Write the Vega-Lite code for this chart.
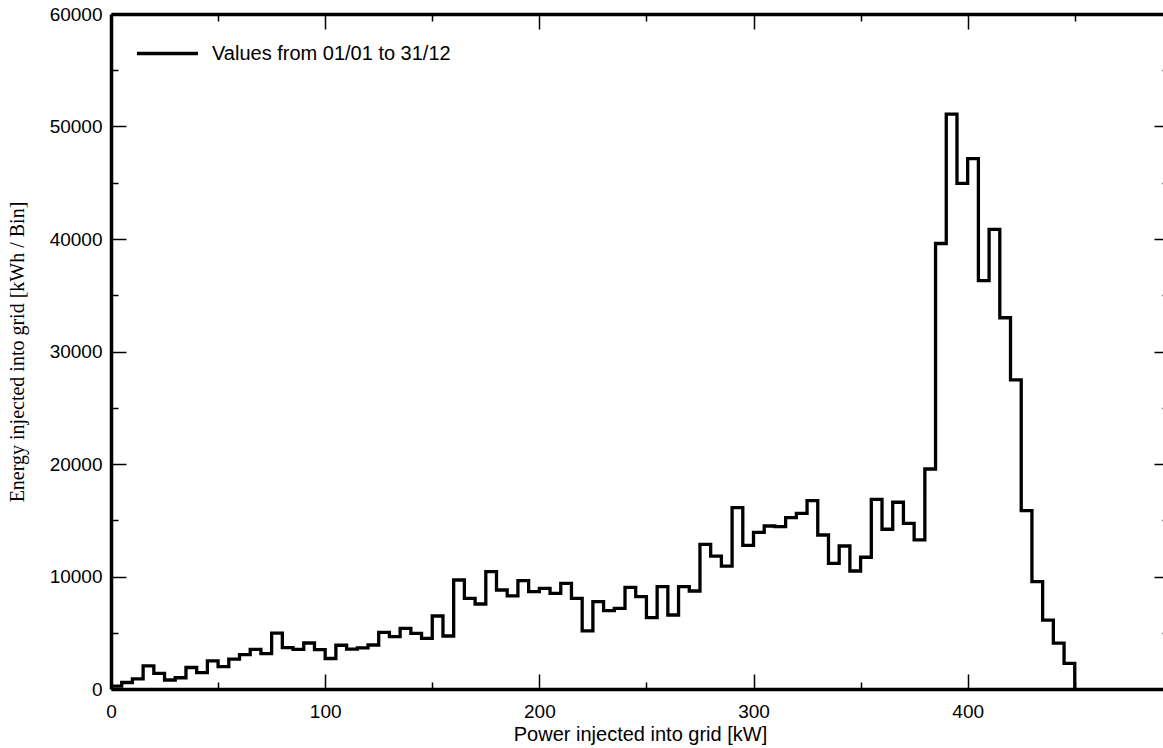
{
  "$schema": "https://vega.github.io/schema/vega-lite/v6.json",
  "autosize": {"type": "none"},
  "padding": {"left": 111, "top": 14, "right": 0, "bottom": 59},
  "width": 1058,
  "height": 675,
  "background": "white",
  "config": {"view": {"stroke": null}},
  "data": {"values": [
    {"power": 0, "energy": 250},
    {"power": 5, "energy": 580},
    {"power": 10, "energy": 900},
    {"power": 15, "energy": 2050},
    {"power": 20, "energy": 1390},
    {"power": 25, "energy": 800},
    {"power": 30, "energy": 1000},
    {"power": 35, "energy": 1910},
    {"power": 40, "energy": 1450},
    {"power": 45, "energy": 2500},
    {"power": 50, "energy": 1990},
    {"power": 55, "energy": 2650},
    {"power": 60, "energy": 3060},
    {"power": 65, "energy": 3530},
    {"power": 70, "energy": 3150},
    {"power": 75, "energy": 4975},
    {"power": 80, "energy": 3680},
    {"power": 85, "energy": 3530},
    {"power": 90, "energy": 4090},
    {"power": 95, "energy": 3500},
    {"power": 100, "energy": 2710},
    {"power": 105, "energy": 3890},
    {"power": 110, "energy": 3550},
    {"power": 115, "energy": 3650},
    {"power": 120, "energy": 3910},
    {"power": 125, "energy": 5036},
    {"power": 130, "energy": 4650},
    {"power": 135, "energy": 5393},
    {"power": 140, "energy": 4950},
    {"power": 145, "energy": 4505},
    {"power": 150, "energy": 6490},
    {"power": 155, "energy": 4710},
    {"power": 160, "energy": 9690},
    {"power": 165, "energy": 8060},
    {"power": 170, "energy": 7556},
    {"power": 175, "energy": 10430},
    {"power": 180, "energy": 8800},
    {"power": 185, "energy": 8270},
    {"power": 190, "energy": 9630},
    {"power": 195, "energy": 8650},
    {"power": 200, "energy": 8950},
    {"power": 205, "energy": 8505},
    {"power": 210, "energy": 9395},
    {"power": 215, "energy": 8060},
    {"power": 220, "energy": 5160},
    {"power": 225, "energy": 7765},
    {"power": 230, "energy": 6965},
    {"power": 235, "energy": 7170},
    {"power": 240, "energy": 9040},
    {"power": 245, "energy": 8210},
    {"power": 250, "energy": 6340},
    {"power": 255, "energy": 9100},
    {"power": 260, "energy": 6580},
    {"power": 265, "energy": 9100},
    {"power": 270, "energy": 8710},
    {"power": 275, "energy": 12860},
    {"power": 280, "energy": 11820},
    {"power": 285, "energy": 10930},
    {"power": 290, "energy": 16120},
    {"power": 295, "energy": 12770},
    {"power": 300, "energy": 13930},
    {"power": 305, "energy": 14490},
    {"power": 310, "energy": 14430},
    {"power": 315, "energy": 15230},
    {"power": 320, "energy": 15620},
    {"power": 325, "energy": 16740},
    {"power": 330, "energy": 13690},
    {"power": 335, "energy": 11170},
    {"power": 340, "energy": 12710},
    {"power": 345, "energy": 10490},
    {"power": 350, "energy": 11710},
    {"power": 355, "energy": 16860},
    {"power": 360, "energy": 14200},
    {"power": 365, "energy": 16600},
    {"power": 370, "energy": 14730},
    {"power": 375, "energy": 13250},
    {"power": 380, "energy": 19555},
    {"power": 385, "energy": 39600},
    {"power": 390, "energy": 51100},
    {"power": 395, "energy": 44950},
    {"power": 400, "energy": 47150},
    {"power": 405, "energy": 36300},
    {"power": 410, "energy": 40850},
    {"power": 415, "energy": 33000},
    {"power": 420, "energy": 27470},
    {"power": 425, "energy": 15850},
    {"power": 430, "energy": 9550},
    {"power": 435, "energy": 6130},
    {"power": 440, "energy": 4080},
    {"power": 445, "energy": 2270},
    {"power": 450, "energy": 0}
  ]},
  "layer": [
    {
      "mark": {"type": "line", "interpolate": "step-after", "strokeWidth": 3.3, "strokeJoin": "miter", "strokeCap": "square", "clip": true},
      "encoding": {
        "x": {"field": "power", "type": "quantitative",
          "scale": {"domain": [0, 494], "nice": false, "zero": false},
          "axis": {
            "orient": "bottom",
            "values": [0, 50, 100, 150, 200, 250, 300, 350, 400, 450],
            "format": "d",
            "labelExpr": "datum.value % 100 === 0 ? datum.label : ''",
            "tickSize": {"condition": {"test": "datum.value % 100 !== 0", "value": -7}, "value": -15},
            "tickWidth": 1.5, "tickColor": "black",
            "domainWidth": 3.5, "domainColor": "black",
            "grid": false,
            "labelFlush": false, "labelOverlap": false,
            "labelFont": "Liberation Sans", "labelFontSize": 19, "labelColor": "black",
            "labelBaseline": "alphabetic", "labelPadding": 43,
            "title": "Power injected into grid [kW]",
            "titleFont": "Liberation Sans", "titleFontSize": 20, "titleFontWeight": "normal", "titleColor": "black",
            "titleBaseline": "alphabetic", "titleY": 51
          }
        },
        "y": {"field": "energy", "type": "quantitative",
          "scale": {"domain": [0, 60000], "nice": false},
          "axis": {
            "orient": "left",
            "values": [0, 5000, 10000, 15000, 20000, 25000, 30000, 35000, 40000, 45000, 50000, 55000, 60000],
            "format": "d",
            "labelExpr": "datum.value % 10000 === 0 ? datum.label : ''",
            "tickSize": {"condition": {"test": "datum.value % 10000 !== 0", "value": -7}, "value": -15},
            "tickWidth": 1.5, "tickColor": "black",
            "domainWidth": 3.5, "domainColor": "black",
            "grid": false,
            "labelOverlap": false, "labelFlush": false,
            "labelFont": "Liberation Sans", "labelFontSize": 19, "labelColor": "black",
            "labelPadding": 24,
            "title": "Energy injected into grid [kWh / Bin]",
            "titleFont": "Liberation Serif", "titleFontSize": 20, "titleFontWeight": "normal", "titleColor": "black",
            "titleBaseline": "alphabetic", "titleAlign": "center", "titleAngle": -90,
            "titleX": -88, "titleY": 337.5
          }
        },
        "color": {"datum": "Values from 01/01 to 31/12", "type": "nominal",
          "scale": {"range": ["black"]},
          "legend": {
            "orient": "none", "legendX": 24, "legendY": 7,
            "title": null, "padding": 0,
            "symbolType": "stroke", "symbolSize": 3720, "symbolStrokeWidth": 3.5, "symbolStrokeColor": "black",
            "labelFont": "Liberation Sans", "labelFontSize": 20, "labelColor": "black", "labelOffset": 12,
            "labelLimit": 400
          }
        }
      }
    },
    {
      "mark": {"type": "line", "interpolate": "step-after", "strokeOpacity": 0},
      "encoding": {
        "x": {"field": "power", "type": "quantitative",
          "axis": {
            "orient": "top",
            "values": [0, 50, 100, 150, 200, 250, 300, 350, 400, 450],
            "labels": false,
            "tickSize": {"condition": {"test": "datum.value % 100 !== 0", "value": -7}, "value": -15},
            "tickWidth": 1.5, "tickColor": "black",
            "domainWidth": 3.5, "domainColor": "black",
            "grid": false, "title": null
          }
        },
        "y": {"field": "energy", "type": "quantitative",
          "axis": {
            "orient": "right",
            "values": [0, 5000, 10000, 15000, 20000, 25000, 30000, 35000, 40000, 45000, 50000, 55000, 60000],
            "labels": false,
            "tickSize": {"condition": {"test": "datum.value % 10000 !== 0", "value": -7}, "value": -15},
            "tickWidth": 1.5, "tickColor": "black",
            "domainWidth": 3.5, "domainColor": "black",
            "grid": false, "title": null
          }
        }
      }
    }
  ],
  "resolve": {"axis": {"x": "independent", "y": "independent"}}
}
